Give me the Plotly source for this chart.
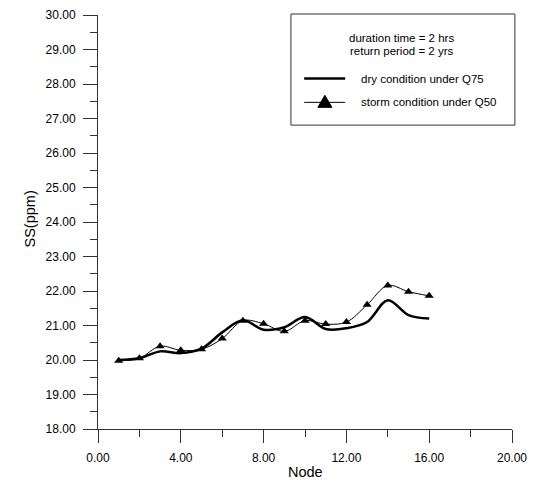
import plotly.graph_objects as go

nodes = [1, 2, 3, 4, 5, 6, 7, 8, 9, 10, 11, 12, 13, 14, 15, 16]
dry_q75 = [20.00, 20.05, 20.25, 20.20, 20.33, 20.80, 21.15, 20.88, 20.95, 21.25, 20.90, 20.92, 21.10, 21.73, 21.30, 21.20]
storm_q50 = [19.98, 20.05, 20.40, 20.28, 20.31, 20.62, 21.14, 21.05, 20.83, 21.14, 21.04, 21.10, 21.60, 22.16, 21.98, 21.86]

header_lines = ["duration time = 2 hrs", "return period = 2 yrs"]
legend_names = ["dry condition under Q75", "storm condition under Q50"]
x_title = "Node"
y_title = "SS(ppm)"

FONT = "Arial, Liberation Sans, sans-serif"
AX = "#333333"

fig = go.Figure()
fig.add_trace(go.Scatter(x=nodes, y=dry_q75, mode="lines", name=legend_names[0],
                         line=dict(color="black", width=2.5, shape="spline", smoothing=1.0)))
fig.add_trace(go.Scatter(x=nodes, y=storm_q50, mode="lines+markers", name=legend_names[1],
                         line=dict(color="black", width=1, shape="spline", smoothing=1.0),
                         marker=dict(symbol="triangle-up", size=8, color="black")))

# legend box drawn manually
fig.add_shape(type="rect", xref="paper", yref="paper", x0=0.466, x1=1.007, y0=0.734, y1=1.0024,
              line=dict(color=AX, width=1), fillcolor="white", layer="above")
for txt, yy in zip(header_lines, [0.945, 0.913]):
    fig.add_annotation(xref="paper", yref="paper", x=0.732, y=yy, text=txt,
                       showarrow=False, font=dict(size=11.5, color="black", family=FONT),
                       xanchor="center", yanchor="middle")
fig.add_shape(type="line", xref="paper", yref="paper", x0=0.498, x1=0.597, y0=0.8466, y1=0.8466,
              line=dict(color="black", width=2.5), layer="above")
fig.add_shape(type="line", xref="paper", yref="paper", x0=0.498, x1=0.597, y0=0.789, y1=0.789,
              line=dict(color="black", width=1), layer="above")
fig.add_shape(type="path", xref="paper", yref="paper", xsizemode="pixel", ysizemode="pixel",
              xanchor=0.548, yanchor=0.789, path="M -7 -5 L 7 -5 L 0 7 Z",
              fillcolor="black", line=dict(color="black", width=1), layer="above")
for txt, yy in zip(legend_names, [0.8466, 0.789]):
    fig.add_annotation(xref="paper", yref="paper", x=0.630, y=yy, text=txt,
                       showarrow=False, font=dict(size=11.5, color="black", family=FONT),
                       xanchor="left", yanchor="middle")

# axis titles
fig.add_annotation(xref="paper", yref="paper", x=0.5, y=(429 - 471.5) / 414, text=x_title,
                   showarrow=False, font=dict(size=14.5, color="black", family=FONT),
                   xanchor="center", yanchor="middle")
fig.add_annotation(xref="paper", yref="paper", x=(29.5 - 98) / 414, y=(429 - 219) / 414, text=y_title,
                   showarrow=False, textangle=-90, font=dict(size=14.5, color="black", family=FONT),
                   xanchor="center", yanchor="middle")

# page body has an 8px margin; figure sized so the page matches 535x484
fig.update_layout(
    width=527, height=476,
    margin=dict(l=90, r=23, t=7, b=55, autoexpand=False),
    paper_bgcolor="white", plot_bgcolor="white",
    showlegend=False,
    font=dict(family=FONT, color="black", size=12),
)
fig.update_xaxes(range=[0, 20], dtick=4, tick0=0, tickformat=".2f", showgrid=False, zeroline=False,
                 automargin=False,
                 showline=True, linecolor=AX, linewidth=1, ticks="outside", ticklen=13,
                 tickcolor=AX, tickfont=dict(size=12), ticklabelstandoff=5,
                 minor=dict(dtick=2, ticks="outside", ticklen=7, tickcolor=AX, showgrid=False))
fig.update_yaxes(range=[18, 30], dtick=1, tick0=18, tickformat=".2f", showgrid=False, zeroline=False,
                 automargin=False,
                 showline=True, linecolor=AX, linewidth=1, ticks="outside", ticklen=14,
                 tickcolor=AX, tickfont=dict(size=12), ticklabelstandoff=5,
                 minor=dict(dtick=0.5, ticks="outside", ticklen=7, tickcolor=AX, showgrid=False))

fig.write_html("out.html")
